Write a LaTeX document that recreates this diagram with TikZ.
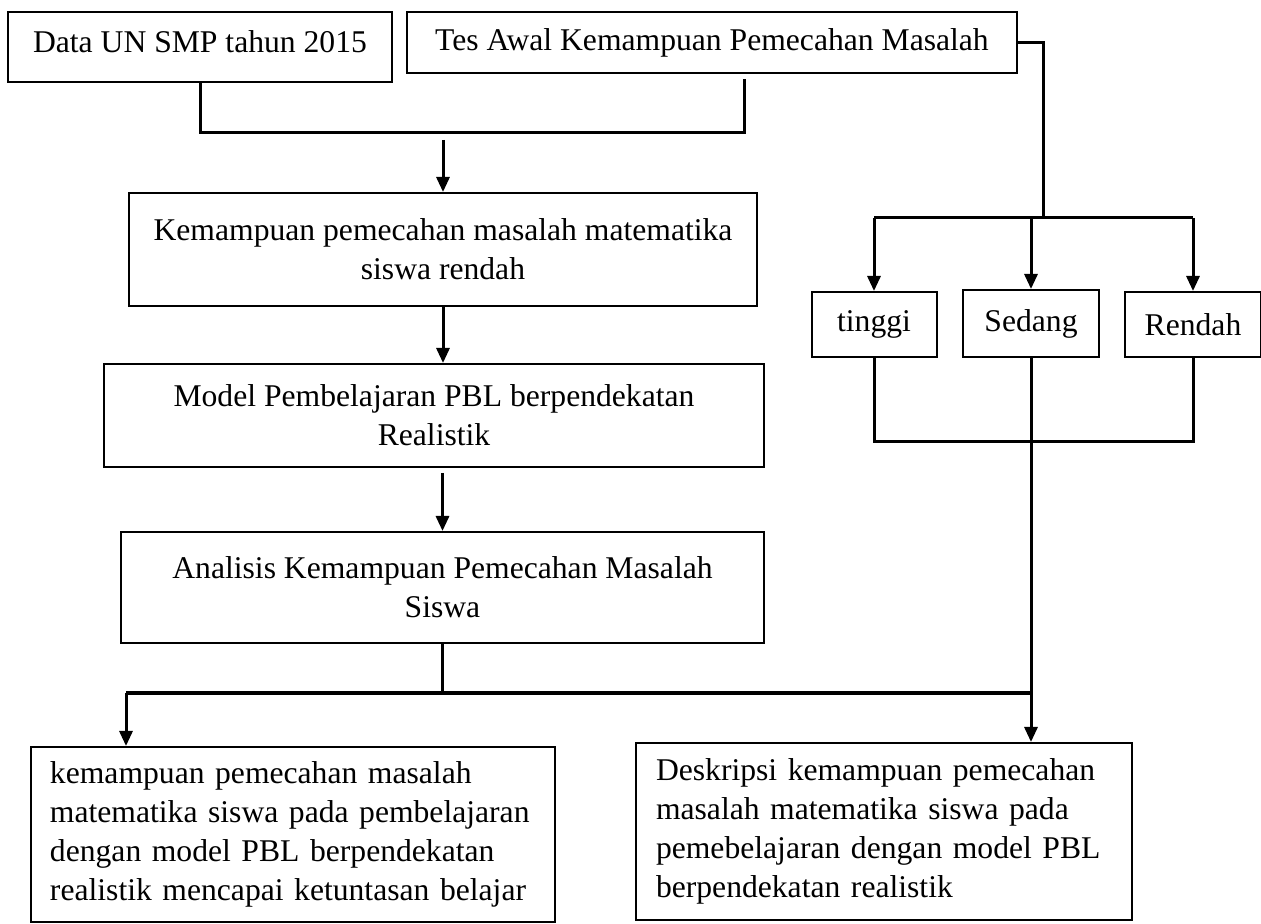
\documentclass[tikz,border=0pt]{standalone}
\usepackage{fontspec}
\setmainfont{Liberation Serif}
\usepackage{xcolor}
\usepackage{tikz}
\usetikzlibrary{arrows.meta,positioning,calc}
\tikzset{
  >={Triangle[length=3mm,width=2.6mm]},
  box/.style={draw,line width=0.4mm,align=center,inner sep=0pt},
  level/.style={draw,line width=0.4mm,align=center,inner sep=0pt,minimum height=13mm},
  result/.style={draw,line width=0.4mm,align=left,inner sep=0pt},
  joint/.style={line width=0.6mm},
  bar/.style={line width=0.9mm},
  flow/.style={->,line width=0.6mm}
}
\begin{document}
\begin{tikzpicture}[x=0.2mm,y=-0.2mm,font=\fontsize{18}{22.2}\selectfont]
  \useasboundingbox (0,0) rectangle (1261,924);

  \node[box,minimum width=76.8mm,minimum height=14mm,text depth=2mm] (data) at (200,47) {Data UN SMP tahun 2015};
  \node[box,minimum width=122mm,minimum height=12.2mm] (tes) at (712,42.5) {Tes Awal Kemampuan Pemecahan Masalah};
  \node[box,minimum width=125.6mm,minimum height=22.6mm] (kem) at (443,249.5) {Kemampuan pemecahan masalah matematika\\siswa rendah};
  \node[box,minimum width=132mm,minimum height=20.6mm] (model) at (434,415.5) {Model Pembelajaran PBL berpendekatan\\Realistik};
  \node[box,minimum width=128.6mm,minimum height=22.2mm] (analisis) at (442.5,587.5) {Analisis Kemampuan Pemecahan Masalah\\Siswa};

  \node[level,minimum width=25mm] (tinggi) at (874,324.5) {tinggi};
  \node[level,minimum width=27.2mm,minimum height=13.4mm] (sedang) at (1031,323.5) {Sedang};
  \node[level,minimum width=27.2mm] (rendah) at (1193,324.5) {Rendah};

  \node[result,text width=97.2mm,minimum width=104.8mm,minimum height=35mm] (hasil) at (293,834.5) {kemampuan pemecahan masalah\\matematika siswa pada pembelajaran\\dengan model PBL berpendekatan\\realistik mencapai ketuntasan belajar};
  \node[result,text width=91.2mm,minimum width=99.2mm,minimum height=35.4mm] (deskripsi) at (884,831.5) {Deskripsi kemampuan pemecahan\\masalah matematika siswa pada\\pemebelajaran dengan model PBL\\berpendekatan realistik};

  \coordinate (tesfoot) at (744,79);
  \coordinate (topbar) at (744,133);
  \coordinate (arrtop) at (443,140);
  \coordinate (lvbar) at (1043,218);
  \coordinate (lowbar) at (1031,442);
  \coordinate (leftdrop) at (126,693);

  \draw[joint] (data.south) |- (topbar) -- (tesfoot);
  \draw[flow] (arrtop) -- (kem.north);
  \draw[flow] (kem.south) -- (kem.south |- model.north);
  \draw[flow] ($(model.south -| analisis.north)+(0,5)$) -- (analisis.north);

  \draw[joint] (tes.east) -| (lvbar);
  \draw[joint] (tinggi.north |- lvbar) -- (rendah.north |- lvbar);
  \draw[flow] (tinggi.north |- lvbar) -- (tinggi.north);
  \draw[flow] (sedang.north |- lvbar) -- (sedang.north);
  \draw[flow] (rendah.north |- lvbar) -- (rendah.north);

  \draw[joint] (tinggi.south) |- (lowbar) -| (rendah.south);
  \draw[joint] (sedang.south) -- (sedang.south |- leftdrop);
  \draw[joint] (analisis.south) -- (analisis.south |- leftdrop);
  \draw[bar] (leftdrop) -- (sedang.south |- leftdrop);
  \draw[flow] (leftdrop) -- (leftdrop |- hasil.north);
  \draw[flow] (sedang.south |- leftdrop) -- (sedang.south |- deskripsi.north);
\end{tikzpicture}
\end{document}
